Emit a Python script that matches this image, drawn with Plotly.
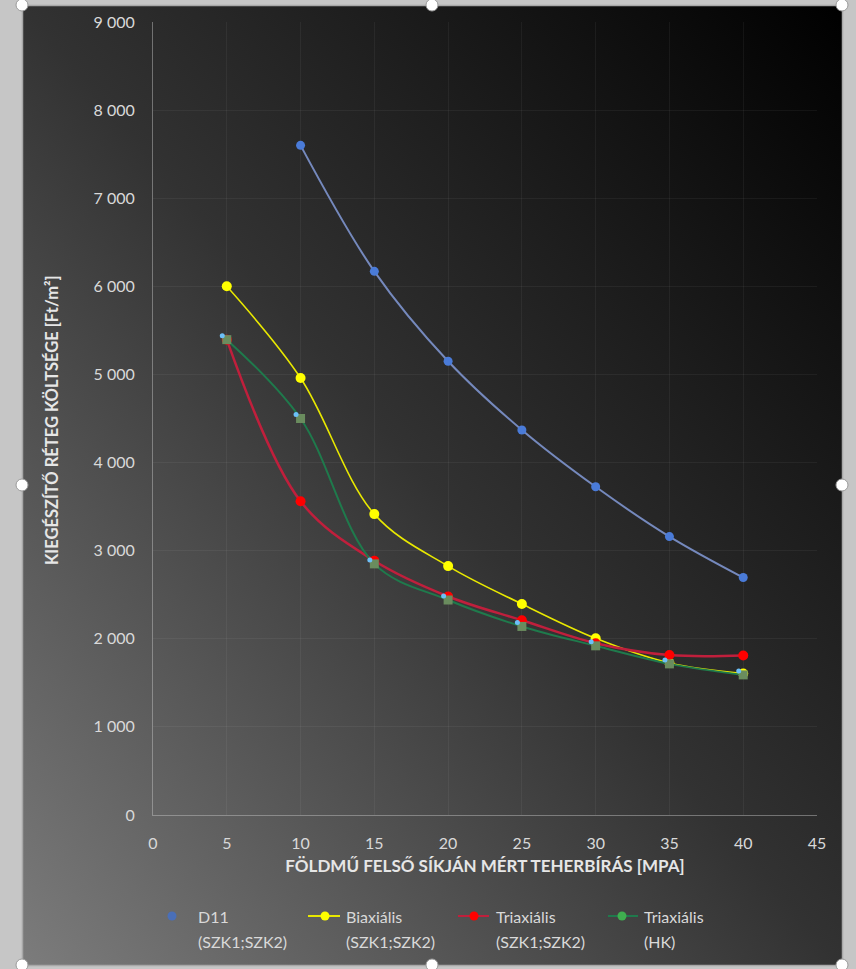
import base64
import plotly.graph_objects as go

# --- data -----------------------------------------------------------------
x_d11 = [10, 15, 20, 25, 30, 35, 40]
y_d11 = [7600, 6170, 5150, 4370, 3725, 3160, 2695]

x_all = [5, 10, 15, 20, 25, 30, 35, 40]
y_biax = [6000, 4960, 3415, 2825, 2395, 2005, 1725, 1605]
y_triax = [5395, 3560, 2885, 2480, 2210, 1950, 1815, 1810]
y_triax_hk = [5395, 4500, 2850, 2440, 2140, 1920, 1715, 1590]

series_names = ["D11", "Biaxiális", "Triaxiális", "Triaxiális"]
series_sub = ["(SZK1;SZK2)", "(SZK1;SZK2)", "(SZK1;SZK2)", "(HK)"]

x_title = "FÖLDMŰ FELSŐ SÍKJÁN MÉRT TEHERBÍRÁS [MPA]"
y_title = "KIEGÉSZÍTŐ RÉTEG KÖLTSÉGE [Ft/m²]"

# --- geometry ---------------------------------------------------------------
W, H = 856, 969
ML, MR, MT, MB = 153, 39, 22, 154
PW, PH = W - ML - MR, H - MT - MB

FONT = "Lato"
TXT = "#d9d9d9"


def px(xp):
    return (xp - ML) / PW


def py(yp):
    return (H - MB - yp) / PH


# chart-area background: grey frame, dark diagonal gradient, selection handles
handles = [(22, 5), (432, 5), (842, 5), (22, 485), (842, 485),
           (22, 965), (432, 965), (842, 965)]
svg = (
    f"<svg xmlns='http://www.w3.org/2000/svg' width='{W}' height='{H}' "
    f"viewBox='0 0 {W} {H}' preserveAspectRatio='none'>"
    "<defs><linearGradient id='g' x1='0' y1='1' x2='1' y2='0'>"
    "<stop offset='0' stop-color='#7c7c7c'/>"
    "<stop offset='0.5' stop-color='#323232'/>"
    "<stop offset='1' stop-color='#000000'/>"
    "</linearGradient></defs>"
    f"<rect width='{W}' height='{H}' fill='#c6c6c6'/>"
    "<rect x='22.5' y='5.5' width='820' height='960' fill='url(#g)' "
    "stroke='#a8a8a8' stroke-width='1.5'/>"
    + "".join(
        f"<circle cx='{cx}' cy='{cy}' r='6' fill='#ffffff' stroke='#9a9a9a' stroke-width='1'/>"
        for cx, cy in handles
    )
    + "</svg>"
)
bg_src = "data:image/svg+xml;base64," + base64.b64encode(svg.encode()).decode()

fig = go.Figure()

fig.add_trace(go.Scatter(
    x=x_d11, y=y_d11, mode="lines+markers", name="D11",
    line=dict(color="#7589bd", width=2, shape="spline"),
    marker=dict(color="#4a7bd8", size=9),
))
fig.add_trace(go.Scatter(
    x=x_all, y=y_biax, mode="lines+markers", name="Biaxiális",
    line=dict(color="#e8e800", width=1.6, shape="spline"),
    marker=dict(color="#ffff00", size=10),
))
fig.add_trace(go.Scatter(
    x=x_all, y=y_triax, mode="lines+markers", name="Triaxiális (SZK1;SZK2)",
    line=dict(color="#c01f3c", width=2.5, shape="spline"),
    marker=dict(color="#ff0000", size=10),
))
fig.add_trace(go.Scatter(
    x=x_all, y=y_triax_hk, mode="lines+markers", name="Triaxiális (HK)",
    line=dict(color="#1f7a4c", width=2, shape="spline"),
    marker=dict(color="#6a8c5e", size=9, symbol="square"),
))

shapes = []
# small light-blue point markers beside each HK square
for xv, yv in zip(x_all, y_triax_hk):
    shapes.append(dict(
        type="circle", xref="x", yref="y",
        xsizemode="pixel", ysizemode="pixel",
        xanchor=xv, yanchor=yv, x0=-7, x1=-2, y0=1.5, y1=6.5,
        fillcolor="#6cc0f8", line=dict(width=0),
    ))

# legend (two text rows per entry)
leg_marker_x = [172, 325, 474, 622]
leg_text_x = [196, 344, 494, 642]
leg_line = [None, (308, 340), (458, 489), (608, 638)]
leg_line_col = [None, "#e8e800", "#c01f3c", "#1f7a4c"]
leg_mark_col = ["#4a6fb8", "#ffff00", "#ff0000", "#3fae4f"]
row1, row2 = 916, 941

annotations = []
for i in range(4):
    if leg_line[i]:
        x0, x1 = leg_line[i]
        shapes.append(dict(type="line", xref="paper", yref="paper",
                           x0=px(x0), x1=px(x1), y0=py(row1), y1=py(row1),
                           line=dict(color=leg_line_col[i], width=2)))
    shapes.append(dict(type="circle", xref="paper", yref="paper",
                       xsizemode="pixel", ysizemode="pixel",
                       xanchor=px(leg_marker_x[i]), yanchor=py(row1),
                       x0=-4.5, x1=4.5, y0=-4.5, y1=4.5,
                       fillcolor=leg_mark_col[i], line=dict(width=0)))
    for txt, row in ((series_names[i], row1), (series_sub[i], row2)):
        annotations.append(dict(
            text=txt, xref="paper", yref="paper",
            x=px(leg_text_x[i]), y=py(row), xanchor="left", yanchor="middle",
            showarrow=False, font=dict(family=FONT, size=16, color=TXT),
        ))

# vertical axis title
annotations.append(dict(
    text=y_title, xref="paper", yref="paper",
    x=px(52), y=py(420), xanchor="center", yanchor="middle",
    textangle=-90, showarrow=False,
    font=dict(family=FONT, size=16.5, color="#e6e6e6", weight="bold"),
))

fig.update_layout(
    width=W, height=H,
    margin=dict(l=ML, r=MR, t=MT, b=MB, pad=0),
    paper_bgcolor="#c6c6c6",
    plot_bgcolor="rgba(0,0,0,0)",
    separators=", ",
    showlegend=False,
    font=dict(family=FONT, color=TXT, size=16),
    images=[dict(
        source=bg_src, xref="paper", yref="paper",
        x=px(0), y=py(0), sizex=W / PW, sizey=H / PH,
        xanchor="left", yanchor="top", sizing="stretch", layer="below",
    )],
    shapes=shapes,
    annotations=annotations,
    xaxis=dict(
        range=[0, 45], dtick=5, tick0=0,
        showgrid=True, gridcolor="rgba(255,255,255,0.05)", gridwidth=1,
        zeroline=False, showline=True, linecolor="rgba(200,200,200,0.45)",
        ticks="", ticklabelstandoff=14,
        tickfont=dict(family=FONT, size=16, color=TXT),
        title=dict(text=x_title, standoff=8,
                   font=dict(family=FONT, size=17, color="#e6e6e6", weight="bold")),
    ),
    yaxis=dict(
        range=[0, 9000], dtick=1000, tick0=0, tickformat=",d",
        showgrid=True, gridcolor="rgba(255,255,255,0.05)", gridwidth=1,
        zeroline=False, showline=True, linecolor="rgba(200,200,200,0.45)",
        ticks="", ticklabelstandoff=14,
        tickfont=dict(family=FONT, size=16, color=TXT),
    ),
)

fig.write_html("out.html")
